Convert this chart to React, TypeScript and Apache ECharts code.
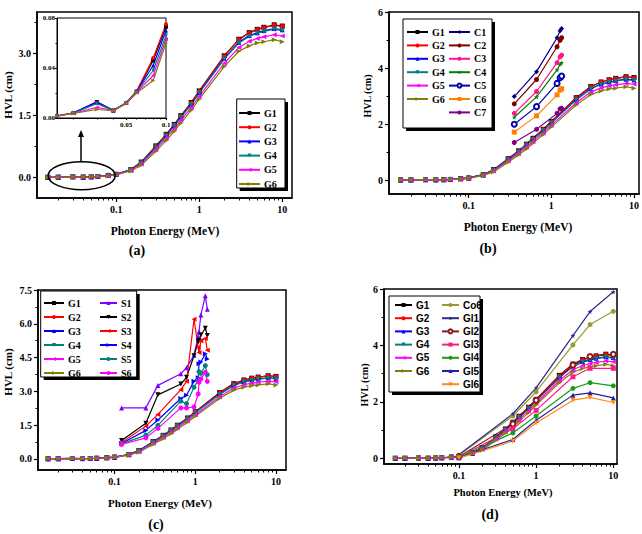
import React, { useEffect, useRef } from 'react';
import * as echarts from 'echarts';

// ---------- data ----------
const E = [0.015, 0.02, 0.03, 0.04, 0.05, 0.06, 0.08, 0.1, 0.15, 0.2, 0.3, 0.4, 0.5, 0.6, 0.8, 1, 2, 3, 4, 5, 6, 8, 10];
const G1 = [0.0016, 0.004, 0.0128, 0.006, 0.012, 0.021, 0.046, 0.073, 0.19, 0.37, 0.76, 1.04, 1.28, 1.49, 1.81, 2.09, 2.94, 3.34, 3.5, 3.58, 3.63, 3.69, 3.66];
const G2 = [0.0017, 0.0042, 0.0122, 0.0062, 0.0122, 0.0215, 0.048, 0.075, 0.19, 0.36, 0.75, 1.03, 1.27, 1.48, 1.8, 2.08, 2.93, 3.33, 3.49, 3.57, 3.62, 3.68, 3.65];
const G3 = [0.0016, 0.0041, 0.013, 0.0061, 0.012, 0.0212, 0.042, 0.07, 0.18, 0.35, 0.73, 1.01, 1.25, 1.46, 1.77, 2.05, 2.88, 3.27, 3.43, 3.5, 3.55, 3.6, 3.57];
const G4 = [0.0016, 0.004, 0.0115, 0.0061, 0.012, 0.021, 0.038, 0.066, 0.18, 0.34, 0.72, 1.0, 1.24, 1.45, 1.76, 2.04, 2.86, 3.25, 3.41, 3.48, 3.53, 3.58, 3.55];
const G5 = [0.0015, 0.0038, 0.0085, 0.006, 0.0118, 0.0205, 0.034, 0.063, 0.17, 0.32, 0.68, 0.95, 1.18, 1.38, 1.69, 1.96, 2.76, 3.14, 3.29, 3.36, 3.4, 3.45, 3.42];
const G6 = [0.0015, 0.0037, 0.0068, 0.0059, 0.0116, 0.02, 0.03, 0.06, 0.16, 0.29, 0.63, 0.89, 1.11, 1.31, 1.62, 1.89, 2.68, 3.05, 3.18, 3.25, 3.28, 3.33, 3.28];

const EC = [0.356, 0.662, 1.173, 1.275, 1.332];
const C1 = [2.98, 3.87, 5.08, 5.33, 5.41];
const C2 = [2.72, 3.59, 4.76, 4.99, 5.08];
const C3 = [2.38, 3.16, 4.19, 4.4, 4.46];
const C4 = [2.24, 2.97, 3.93, 4.13, 4.19];
const C5 = [1.99, 2.62, 3.45, 3.65, 3.71];
const C6 = [1.71, 2.29, 3.04, 3.21, 3.26];
const C7 = [1.34, 1.81, 2.38, 2.54, 2.56];

const ES = [0.122, 0.244, 0.344, 0.662, 0.779, 0.964, 1.086, 1.112, 1.173, 1.332, 1.408];
const S1 = [2.26, 2.26, 3.26, 3.78, 4.05, 4.6, 5.45, 5.65, 6.39, 7.24, 6.64];
const S2 = [0.81, 1.58, 2.84, 3.32, 3.62, 4.58, 5.2, 5.26, 5.5, 5.8, 5.48];
const S3 = [0.72, 1.45, 1.97, 3.07, 3.44, 6.2, 4.95, 4.72, 5.25, 5.35, 4.82];
const S4 = [0.68, 1.26, 1.72, 2.68, 2.82, 3.45, 3.6, 4.22, 4.3, 4.67, 4.43];
const S5 = [0.66, 1.05, 1.48, 2.56, 2.45, 3.18, 3.5, 3.87, 3.8, 4.14, 3.74];
const S6 = [0.64, 0.93, 1.35, 2.26, 2.26, 2.3, 2.88, 3.4, 3.55, 3.84, 3.44];

const EG = [0.1, 0.5, 1, 3, 5, 10];
const Co6 = [0.11, 1.5, 2.36, 4.02, 4.74, 5.21];
const Gl1 = [0.13, 1.58, 2.5, 4.35, 5.2, 5.9];
const Gl2 = [0.06, 1.22, 2.06, 3.31, 3.61, 3.69];
const Gl3 = [0.04, 1.05, 1.7, 2.89, 3.19, 3.19];
const Gl4 = [0.03, 0.9, 1.5, 2.48, 2.68, 2.57];
const Gl5 = [0.02, 0.67, 1.35, 2.24, 2.32, 2.14];
const Gl6 = [0.01, 0.61, 1.25, 2.06, 2.16, 1.98];

const X_LABELS = [0.1, 1, 10];
const X_MINOR = [0.02, 0.03, 0.04, 0.05, 0.06, 0.07, 0.08, 0.09, 0.2, 0.3, 0.4, 0.5, 0.6, 0.7, 0.8, 0.9, 2, 3, 4, 5, 6, 7, 8, 9];
const INSET_X_LABELS = [0.05, 0.1];
const INSET_X_MINOR = [0.02, 0.03, 0.04, 0.06, 0.07, 0.08, 0.09];
const Y_LABELS = [[0, 1.5, 3], [0, 2, 4, 6], [0, 1.5, 3, 4.5, 6, 7.5], [0, 2, 4, 6], [0, 0.04, 0.08]];
const Y_MINOR = [[0.75, 2.25, 3.75], [1, 3, 5], [0.75, 2.25, 3.75, 5.25, 6.75], [1, 3, 5], [0.02, 0.06]];

// ---------- styles / layout ----------
const SERIF = "'Liberation Serif', 'Times New Roman', serif";
const SANS = "'Liberation Sans', Arial, sans-serif";
const STAR = 'path://M12,0 L14.9,8.6 L24,8.6 L16.6,14 L19.4,22.8 L12,17.4 L4.6,22.8 L7.4,14 L0,8.6 L9.1,8.6 Z';

const G_STY = [
  { name: 'G1', color: '#000000', symbol: 'rect', rot: 0 },
  { name: 'G2', color: '#ff0000', symbol: 'circle', rot: 0 },
  { name: 'G3', color: '#0000ff', symbol: 'triangle', rot: 0 },
  { name: 'G4', color: '#008080', symbol: 'triangle', rot: 180 },
  { name: 'G5', color: '#ff00ff', symbol: 'triangle', rot: 90 },
  { name: 'G6', color: '#808000', symbol: 'triangle', rot: -90 },
];
const C_STY = [
  { name: 'C1', color: '#000080', symbol: 'diamond', rot: 0 },
  { name: 'C2', color: '#800000', symbol: 'circle', rot: 0 },
  { name: 'C3', color: '#ff1493', symbol: 'circle', rot: 0 },
  { name: 'C4', color: '#008000', symbol: STAR, rot: 0 },
  { name: 'C5', color: '#0000b0', symbol: 'emptyCircle', rot: 0 },
  { name: 'C6', color: '#ff8000', symbol: 'rect', rot: 0 },
  { name: 'C7', color: '#800080', symbol: 'circle', rot: 0 },
];
const S_STY = [
  { name: 'S1', color: '#8000ff', symbol: 'triangle', rot: 0 },
  { name: 'S2', color: '#000000', symbol: 'triangle', rot: 180 },
  { name: 'S3', color: '#ff0000', symbol: 'triangle', rot: 90 },
  { name: 'S4', color: '#0000ff', symbol: 'triangle', rot: -90 },
  { name: 'S5', color: '#008080', symbol: 'circle', rot: 0 },
  { name: 'S6', color: '#ff00ff', symbol: 'circle', rot: 0 },
];
const D_STY = [
  { name: 'Co6', color: '#999933', symbol: 'circle', rot: 0 },
  { name: 'Gl1', color: '#2b2b8c', symbol: STAR, rot: 0 },
  { name: 'Gl2', color: '#8b1a1a', symbol: 'emptyCircle', rot: 0 },
  { name: 'Gl3', color: '#ff1a8c', symbol: 'rect', rot: 0 },
  { name: 'Gl4', color: '#1a9a1a', symbol: 'circle', rot: 0 },
  { name: 'Gl5', color: '#2020a0', symbol: 'triangle', rot: 0 },
  { name: 'Gl6', color: '#ff8c1a', symbol: 'triangle', rot: 180 },
];

const GRIDS = [
  { left: 37, top: 12, width: 255, height: 186 },
  { left: 389, top: 12, width: 252, height: 182 },
  { left: 38, top: 290, width: 248, height: 180 },
  { left: 384, top: 289, width: 233, height: 175 },
  { left: 57, top: 18, width: 109, height: 100 },
];
const XR = [[0.0111, 13.1], [0.01086, 11.5], [0.01125, 13.3], [0.01072, 11.16], [0.015, 0.1]];
const YR = [[-0.5, 4], [-0.5, 6], [-0.5, 7.5], [-0.2, 6], [0, 0.08]];
const YDEC = [1, 0, 1, 0, 2];

function pairs(xs: number[], ys: number[]) {
  return xs.map((x, i) => [x, ys[i]]);
}

function line(sty: any, xs: number[], ys: number[], axis: number, size = 5) {
  return {
    type: 'line',
    name: sty.name,
    xAxisIndex: axis * 2,
    yAxisIndex: axis * 2,
    data: pairs(xs, ys),
    symbol: sty.symbol,
    symbolRotate: sty.rot,
    symbolSize: size,
    showSymbol: true,
    lineStyle: { color: sty.color, width: 1.2 },
    itemStyle: { color: sty.color, borderColor: sty.color, borderWidth: sty.symbol === 'emptyCircle' ? 1.5 : 0 },
    emphasis: { disabled: true },
    silent: true,
    z: 2,
  };
}

function buildOption() {
  const G = [G1, G2, G3, G4, G5, G6];
  const series: any[] = [];
  for (let p = 0; p < 4; p++) {
    G_STY.forEach((s, i) => series.push(line(s, E, G[i], p)));
  }
  G_STY.forEach((s, i) => series.push(line(s, E.slice(0, 8), G[i].slice(0, 8), 4, 4)));
  const C = [C1, C2, C3, C4, C5, C6, C7];
  C_STY.forEach((s, i) => series.push(line(s, EC, C[i], 1)));
  const S = [S1, S2, S3, S4, S5, S6];
  S_STY.forEach((s, i) => series.push(line(s, ES, S[i], 2)));
  const D = [Co6, Gl1, Gl2, Gl3, Gl4, Gl5, Gl6];
  D_STY.forEach((s, i) => series.push(line(s, EG, D[i], 3)));

  const xAxis: any[] = [];
  const yAxis: any[] = [];
  for (let g = 0; g < 5; g++) {
    const inset = g === 4;
    const fs = inset ? 7 : 10;
    const xl = inset ? INSET_X_LABELS : X_LABELS;
    const xm = (inset ? INSET_X_MINOR : X_MINOR).filter((v) => v > XR[g][0] && v < XR[g][1]);
    xAxis.push({
      type: 'log', gridIndex: g, min: XR[g][0], max: XR[g][1], position: 'bottom',
      axisLine: { show: true, onZero: false, lineStyle: { color: '#000', width: inset ? 1 : 1.5 } },
      axisTick: { show: true, customValues: xl, length: inset ? 2 : 4, lineStyle: { color: '#000', width: 1.2 } },
      axisLabel: {
        customValues: xl, color: '#000', fontFamily: SERIF, fontWeight: 'bold', fontSize: fs, margin: inset ? 3 : 6,
        formatter: (v: number) => String(Number(Number(v).toPrecision(3))),
      },
      splitLine: { show: false }, minorTick: { show: false }, minorSplitLine: { show: false },
    });
    xAxis.push({
      type: 'log', gridIndex: g, min: XR[g][0], max: XR[g][1], position: 'bottom',
      axisLine: { show: false, onZero: false },
      axisTick: { show: true, customValues: xm, length: inset ? 1.5 : 2.5, lineStyle: { color: '#000', width: 1 } },
      axisLabel: { show: false }, splitLine: { show: false },
    });
    yAxis.push({
      type: 'value', gridIndex: g, min: YR[g][0], max: YR[g][1], position: 'left',
      axisLine: { show: true, onZero: false, lineStyle: { color: '#000', width: inset ? 1 : 1.5 } },
      axisTick: { show: true, customValues: Y_LABELS[g], length: inset ? 2 : 4, lineStyle: { color: '#000', width: 1.2 } },
      axisLabel: {
        customValues: Y_LABELS[g], color: '#000', fontFamily: SERIF, fontWeight: 'bold', fontSize: fs, margin: inset ? 2 : 6,
        formatter: (v: number) => Number(v).toFixed(YDEC[g]),
      },
      splitLine: { show: false },
    });
    yAxis.push({
      type: 'value', gridIndex: g, min: YR[g][0], max: YR[g][1], position: 'left',
      axisLine: { show: false, onZero: false },
      axisTick: { show: true, customValues: Y_MINOR[g], length: inset ? 1.5 : 2.5, lineStyle: { color: '#000', width: 1 } },
      axisLabel: { show: false }, splitLine: { show: false },
    });
  }

  const grid = GRIDS.map((r, i) => ({
    ...r, show: true, borderColor: '#000', borderWidth: i === 4 ? 1 : 1.5,
    backgroundColor: i === 4 ? '#fff' : 'transparent', containLabel: false,
  }));

  const lg = (id: string, names: string[], left: number, top: number, iw: number, gap: number, font: string) => ({
    id, data: names, orient: 'vertical', left, top, itemWidth: iw, itemHeight: 5, itemGap: gap, padding: 0,
    selectedMode: false, z: 20,
    textStyle: { fontFamily: font, fontWeight: 'bold', fontSize: 10, color: '#000', lineHeight: 12, padding: [0, 0, 0, -1] },
  });
  const gNames = G_STY.map((s) => s.name);
  const legend = [
    lg('la', gNames, 238, 107, 21, 2.2, SERIF),
    lg('lb1', gNames, 406, 26, 21, 1.4, SERIF),
    lg('lb2', C_STY.map((s) => s.name), 448, 26, 21, 1.4, SERIF),
    lg('lc1', gNames, 43, 297, 20, 2, SERIF),
    lg('lc2', S_STY.map((s) => s.name), 99, 297, 17, 2, SERIF),
    lg('ld1', gNames, 394, 299, 17, 1.2, SANS),
    lg('ld2', D_STY.map((s) => s.name), 441, 299, 17, 1.2, SANS),
  ];

  const box = (x: number, y: number, w: number, h: number) => [
    { type: 'rect', z: 10, shape: { x: x + 3, y: y + 3, width: w, height: h }, style: { fill: '#000' }, silent: true },
    { type: 'rect', z: 11, shape: { x, y, width: w, height: h }, style: { fill: '#fff', stroke: '#000', lineWidth: 1 }, silent: true },
  ];
  const txt = (t: string, x: number, y: number, size: number, rot = 0) => ({
    type: 'text', z: 12, x, y, rotation: rot, silent: true,
    style: { text: t, fill: '#000', font: `bold ${size}px ${SERIF}`, align: 'center', verticalAlign: 'middle' },
  });

  const graphic: any[] = [
    ...box(236.7, 99, 48.3, 89),
    ...box(403, 19, 89, 109),
    ...box(40.7, 291, 96, 86),
    ...box(389, 296, 91, 96),
    { type: 'ellipse', z: 12, shape: { cx: 81.7, cy: 175.7, rx: 33.5, ry: 14 }, style: { fill: 'none', stroke: '#000', lineWidth: 1.5 }, silent: true },
    { type: 'line', z: 12, shape: { x1: 81, y1: 161, x2: 81, y2: 135 }, style: { stroke: '#000', lineWidth: 1.5 }, silent: true },
    { type: 'polygon', z: 12, shape: { points: [[81, 130], [78, 137], [84, 137]] }, style: { fill: '#000' }, silent: true },
    txt('HVL (cm)', 8, 95, 11, Math.PI / 2),
    txt('Photon Energy (MeV)', 165, 231, 11.5),
    txt('(a)', 137, 250, 14),
    txt('HVL (cm)', 367, 96, 10, Math.PI / 2),
    txt('Photon Energy (MeV)', 518, 227, 11.5),
    txt('(b)', 488, 248, 14),
    txt('HVL (cm)', 8, 372, 11, Math.PI / 2),
    txt('Photon Energy (MeV)', 160, 503, 11),
    txt('(c)', 156, 524, 14),
    txt('HVL (cm)', 364, 385, 10, Math.PI / 2),
    txt('Photon Energy (MeV)', 503, 492, 10.5),
    txt('(d)', 490, 514, 14),
  ];

  return { animation: false, backgroundColor: '#fff', grid, xAxis, yAxis, legend, series, graphic };
}

export default function App() {
  const ref = useRef<HTMLDivElement>(null);
  useEffect(() => {
    document.body.style.margin = '0';
    if (!ref.current) return;
    const chart = echarts.init(ref.current, null, { renderer: 'svg' });
    chart.setOption(buildOption() as any);
    return () => chart.dispose();
  }, []);
  return <div ref={ref} style={{ width: 642, height: 534 }} />;
}
